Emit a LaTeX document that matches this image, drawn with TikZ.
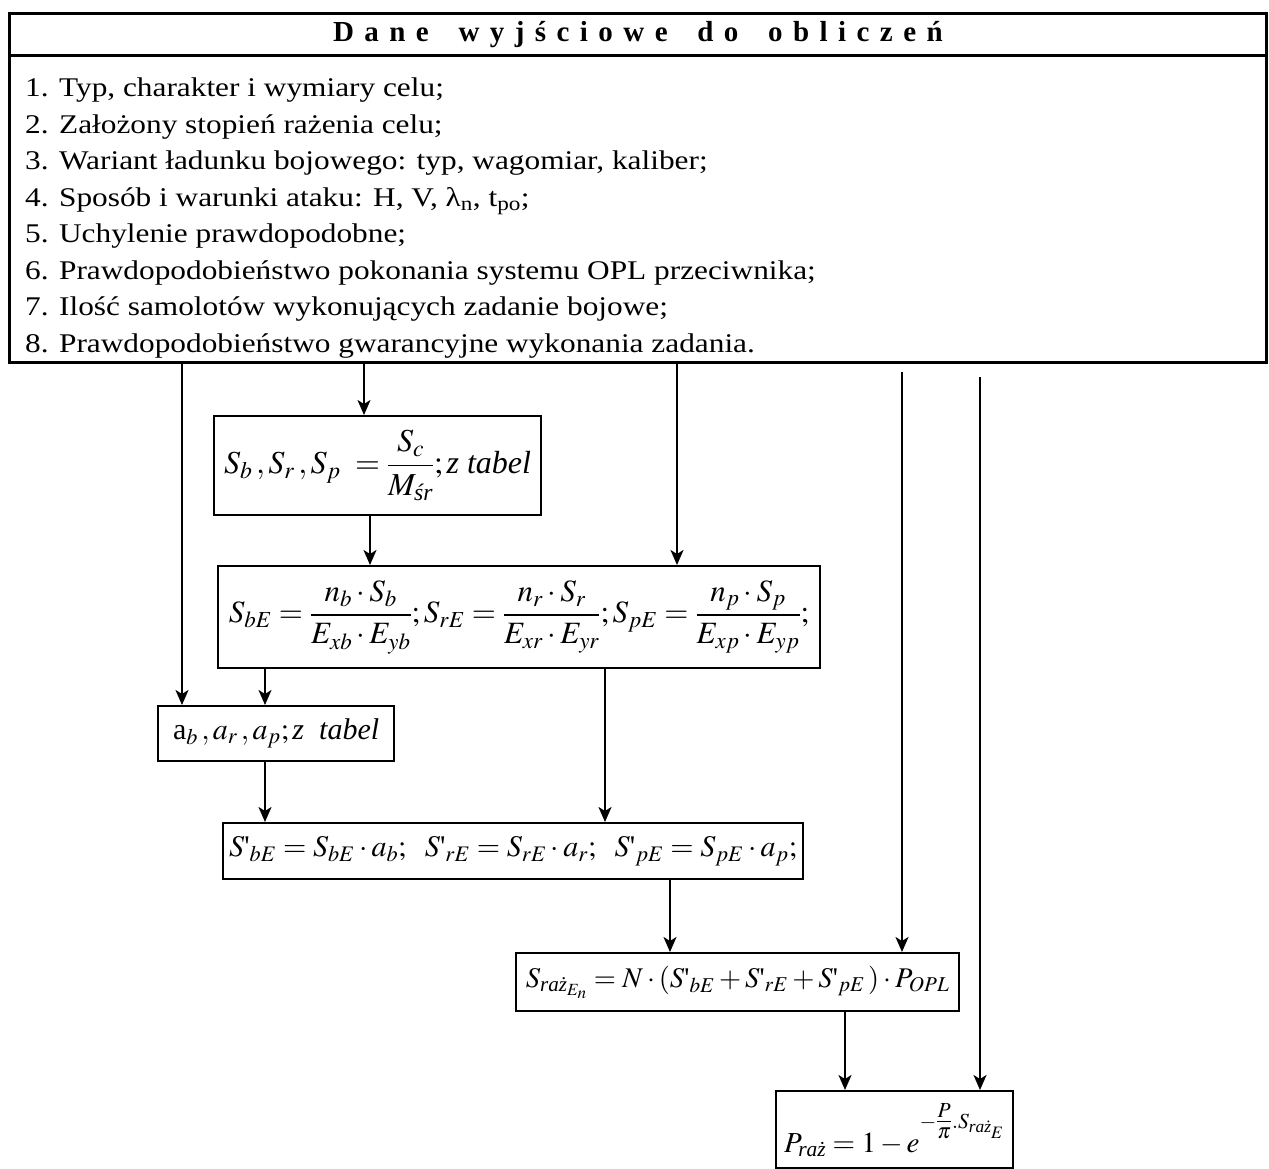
\documentclass[tikz,border=0pt]{standalone}
\usepackage{mathptmx}
\usepackage{amsmath}
\usepackage{fontspec}
\setmainfont{Liberation Serif}
\newfontfamily\itemfont{Liberation Serif}[FakeStretch=1.16]
\usetikzlibrary{arrows.meta}

\newcommand{\tabz}{\text{\itshape z tabel}}
\newcommand{\ap}{\text{\textquotesingle}}

\begin{document}
\begin{tikzpicture}[x=1pt,y=-1pt,
  frame/.style={draw, line width=2.8pt, inner sep=0pt, anchor=north west},
  eqbox/.style={draw, line width=2.2pt, inner sep=0pt, anchor=north west},
  item/.style={anchor=base west, inner sep=0pt, font=\itemfont\fontsize{27}{30}\selectfont},
  arr/.style={line width=2.2pt, -{Stealth[length=15pt,width=13pt,inset=4pt]}},
  eq/.style={font=\fontsize{#1}{36}\selectfont},
  eq/.default=30,
]
\useasboundingbox (0,0) rectangle (1269,1169);

% input data block
\node[frame, minimum width=1257, minimum height=42] (hdr) at (8,12) {};
\node[font=\fontsize{29}{30}\selectfont\bfseries] (title) at (hdr.center)
  {\addfontfeature{LetterSpace=36}Dane\hspace{12pt} wyjściowe\hspace{12pt} do\hspace{12pt} obliczeń};
\node[frame, minimum width=1257, minimum height=307] (data) at (8,54) {};

\node[item] (i1) at (25,97)  {1. Typ, charakter i wymiary celu;};
\node[item] (i2) at (25,133.4) {2. Założony stopień rażenia celu;};
\node[item] (i3) at (25,169.9) {3. Wariant ładunku bojowego: typ, wagomiar, kaliber;};
\node[item] (i4) at (25,206.3) {4. Sposób i warunki ataku: H, V, λ\textsubscript{n}, t\textsubscript{po};};
\node[item] (i5) at (25,242.7) {5. Uchylenie prawdopodobne;};
\node[item] (i6) at (25,279.1) {6. Prawdopodobieństwo pokonania systemu OPL przeciwnika;};
\node[item] (i7) at (25,315.6) {7. Ilość samolotów wykonujących zadanie bojowe;};
\node[item] (i8) at (25,352)   {8. Prawdopodobieństwo gwarancyjne wykonania zadania.};

% calculation boxes
\node[eqbox, minimum width=327, minimum height=99] (sb) at (213,415) {};
\node[eq=32] at (sb.center) {$S_b\,,S_r\,,S_p\;=\dfrac{S_c}{M_{\text{\itshape śr}}};\tabz$};

\node[eqbox, minimum width=602, minimum height=102] (sbe) at (217,565) {};
\node[eq=31] at (sbe.center) {$S_{bE}=\dfrac{n_b\cdot S_b}{E_{xb}\cdot E_{yb}};S_{rE}=\dfrac{n_r\cdot S_r}{E_{xr}\cdot E_{yr}};S_{pE}=\dfrac{n_p\cdot S_p}{E_{xp}\cdot E_{yp}};$};

\node[eqbox, minimum width=236, minimum height=55] (ab) at (157,705) {};
\node[eq=30] at (ab.center) {$\text{a}_b\,,a_r\,,a_p;\text{\itshape z\ \ tabel}$};

\node[eqbox, minimum width=580, minimum height=56] (sp) at (222,822) {};
\node[eq=30] at (sp.center) {${S\ap}_{bE}=S_{bE}\cdot a_b;\ \ {S\ap}_{rE}=S_{rE}\cdot a_r;\ \ {S\ap}_{pE}=S_{pE}\cdot a_p;$};

\node[eqbox, minimum width=443, minimum height=58] (sraz) at (515,952) {};
\node[eq=28.5] at (sraz.center) {$S_{\textit{raż}_{E_n}}=N\cdot({S\ap}_{bE}+{S\ap}_{rE}+{S\ap}_{pE}\,)\cdot P_{OPL}$};

\node[eqbox, minimum width=237, minimum height=77] (praz) at (775,1090) {};
\node[eq=29, anchor=base west, inner sep=0pt] at ([xshift=9pt,yshift=17pt]praz.south west)
  {$P_{\textit{raż}}=1-e^{\raisebox{0.45em}{$\scriptstyle-\genfrac{}{}{}{1}{P}{\pi}.S_{\textit{raż}_E}$}}$};

% column positions of the connectors
\coordinate (xa) at (182,0);
\coordinate (xb) at (364,0);
\coordinate (xc) at (677,0);
\coordinate (xf) at (370,0);
\coordinate (xg) at (265,0);
\coordinate (xh) at (605,0);
\coordinate (xj) at (670,0);
\coordinate (xk) at (845,0);
\coordinate (d0) at (902,372);
\coordinate (e0) at (980,377);

\draw[arr] (data.south -| xa) -- (ab.north -| xa);
\draw[arr] (data.south -| xb) -- (sb.north -| xb);
\draw[arr] (data.south -| xc) -- (sbe.north -| xc);
\draw[arr] (d0) -- (sraz.north -| d0);
\draw[arr] (e0) -- (praz.north -| e0);
\draw[arr] (sb.south -| xf) -- (sbe.north -| xf);
\draw[arr] (sbe.south -| xg) -- (ab.north -| xg);
\draw[arr] (sbe.south -| xh) -- (sp.north -| xh);
\draw[arr] (ab.south -| xg) -- (sp.north -| xg);
\draw[arr] (sp.south -| xj) -- (sraz.north -| xj);
\draw[arr] (sraz.south -| xk) -- (praz.north -| xk);
\end{tikzpicture}
\end{document}
